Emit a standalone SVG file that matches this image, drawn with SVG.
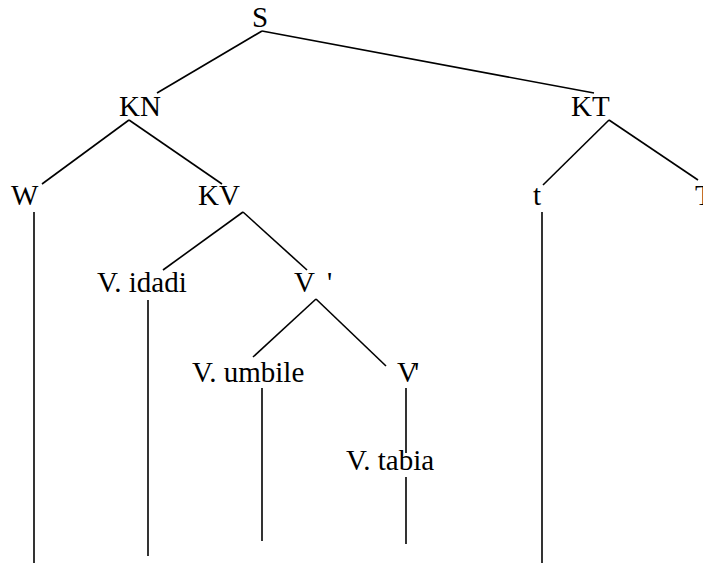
<svg xmlns="http://www.w3.org/2000/svg" width="703" height="564" viewBox="0 0 703 564">
<style>
text { font-family: "Liberation Serif", "Times New Roman", serif; font-size: 29px; fill: #000; }
line { stroke: #000; stroke-width: 1.6; }
</style>
<rect x="0" y="0" width="703" height="564" fill="#fff"/>
<g id="connectors">
<line x1="262" y1="31" x2="157" y2="93"/>
<line x1="262" y1="31" x2="594" y2="93"/>
<line x1="129" y1="120" x2="42" y2="184"/>
<line x1="129" y1="120" x2="222" y2="184"/>
<line x1="609" y1="120" x2="543" y2="185"/>
<line x1="609" y1="120" x2="698" y2="180"/>
<line x1="34" y1="212" x2="34" y2="563"/>
<line x1="243" y1="212" x2="163" y2="270"/>
<line x1="243" y1="212" x2="307" y2="270"/>
<line x1="148" y1="300" x2="148" y2="556"/>
<line x1="316" y1="299" x2="253" y2="357"/>
<line x1="316" y1="299" x2="386" y2="366"/>
<line x1="262" y1="388" x2="262" y2="541"/>
<line x1="406" y1="388" x2="406" y2="453"/>
<line x1="406" y1="477" x2="406" y2="544"/>
<line x1="542" y1="212" x2="542" y2="563"/>
</g>
<g id="S"><text x="252" y="27">S</text></g>
<g id="KN"><text x="119" y="116">KN</text></g>
<g id="KT"><text x="571" y="116">KT</text></g>
<g id="W"><text x="11" y="205">W</text></g>
<g id="KV"><text x="198" y="205">KV</text></g>
<g id="t"><text x="533" y="205">t</text></g>
<g id="T"><text x="695" y="205">T</text></g>
<g id="V-idadi"><text x="97" y="292">V. idadi</text></g>
<g id="V-bar"><text x="294" y="292">V</text><text x="327" y="292">'</text></g>
<g id="V-umbile"><text x="192" y="382">V. umbile</text></g>
<g id="V-prime"><text x="397" y="382">V</text><text x="414" y="382">'</text></g>
<g id="V-tabia"><text x="346" y="470">V. tabia</text></g>
</svg>
